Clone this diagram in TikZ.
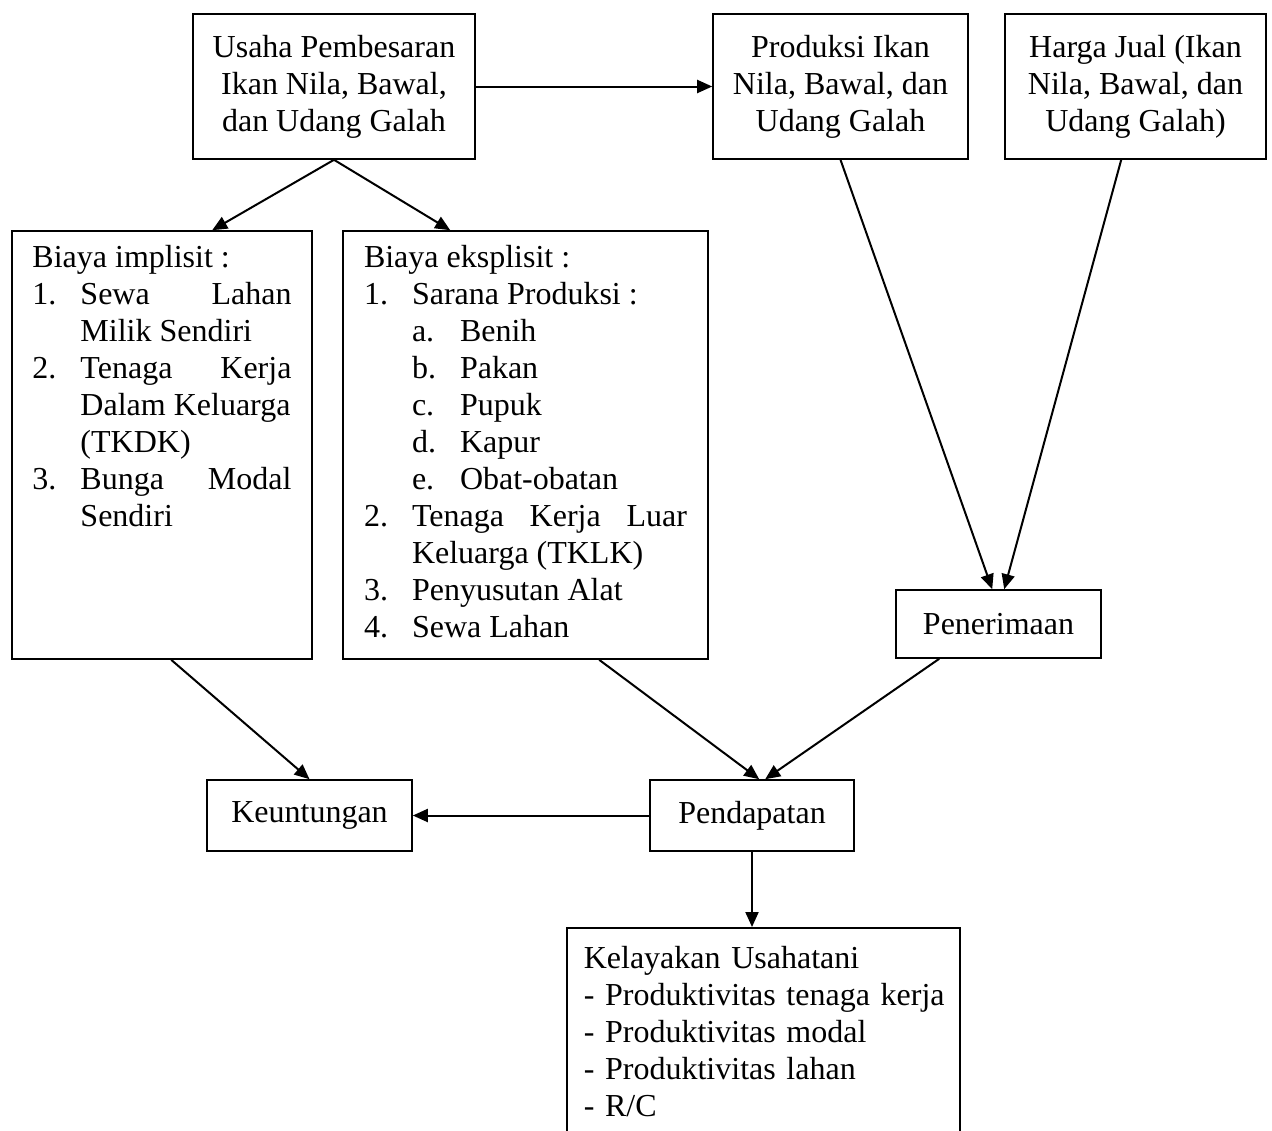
\documentclass[tikz,border=0pt]{standalone}
\usepackage{fontspec}
\setmainfont{Liberation Serif}
\usetikzlibrary{arrows.meta,calc}

\begin{document}
\begin{tikzpicture}[x=0.5pt,y=-0.5pt,
  every node/.style={font=\fontsize{16}{18.5}\selectfont},
  box/.style={draw, line width=0.8pt, align=center, inner sep=0pt},
  list box/.style={draw, line width=0.8pt, inner sep=0pt,
    minimum height=214pt},
  link/.style={line width=1pt, -{Triangle[length=7.5pt,width=6.5pt]}}]
  \useasboundingbox (0,0) rectangle (1272,1130);

  \node[box, minimum width=141pt, minimum height=72.5pt] (usaha) at (334,86.5)
    {Usaha Pembesaran\\ Ikan Nila, Bawal,\\ dan Udang Galah};
  \node[box, minimum width=127.5pt, minimum height=72.5pt] (prod) at (840.5,86.5)
    {Produksi Ikan\\ Nila, Bawal, dan\\ Udang Galah};
  \node[box, minimum width=130.5pt, minimum height=72.5pt] (harga) at (1135.5,86.5)
    {Harga Jual (Ikan\\ Nila, Bawal, dan\\ Udang Galah)};

  \node[list box, minimum width=150pt] (impl) at (162,445) {%
    \begin{tabular}{@{}p{24pt}@{}p{105.5pt}@{}}
      \multicolumn{2}{@{}l@{}}{Biaya implisit :}\\
      1. & Sewa \hfill Lahan\\
         & Milik Sendiri\\
      2. & Tenaga \hfill Kerja\\
         & Dalam Keluarga\\
         & (TKDK)\\
      3. & Bunga \hfill Modal\\
         & Sendiri\\
         & \\
         & \\
         &
    \end{tabular}};
  \node[list box, minimum width=182.5pt] (eks) at (525.5,445) {%
    \begin{tabular}{@{}p{24pt}@{}p{24pt}@{}p{113.5pt}@{}}
      \multicolumn{3}{@{}l@{}}{Biaya eksplisit :}\\
      1. & \multicolumn{2}{@{}l@{}}{Sarana Produksi :}\\
         & a. & Benih\\
         & b. & Pakan\\
         & c. & Pupuk\\
         & d. & Kapur\\
         & e. & Obat-obatan\\
      2. & \multicolumn{2}{@{}p{137.5pt}@{}}{Tenaga \hfill Kerja \hfill Luar}\\
         & \multicolumn{2}{@{}l@{}}{Keluarga (TKLK)}\\
      3. & \multicolumn{2}{@{}l@{}}{Penyusutan Alat}\\
      4. & \multicolumn{2}{@{}l@{}}{Sewa Lahan}
    \end{tabular}};

  \node[box, minimum width=102.5pt, minimum height=34pt] (pen) at (998.5,624) {Penerimaan};
  \node[box, minimum width=102.5pt, minimum height=35.5pt] (keu) at (309.5,815.5) {Keuntungan};
  \node[box, minimum width=102pt, minimum height=35.5pt] (pend) at (752,815.5) {Pendapatan};
  \node[draw, line width=0.8pt, anchor=north west, align=left, text width=179.5pt,
    inner xsep=8.5pt, inner ysep=9pt] (kel) at (566,927)
    {Kelayakan Usahatani\\ \mbox{- Produktivitas tenaga kerja}\\ - Produktivitas modal\\
     - Produktivitas lahan\\ - R/C};

  \draw[link] (usaha.east) -- (prod.west);
  \draw[link] (usaha.south) -- ($(impl.north west)+(201,0)$);
  \draw[link] (usaha.south) -- ($(eks.north west)+(108,0)$);
  \draw[link] (prod.south) -- ($(pen.north west)+(97,0)$);
  \draw[link] ($(harga.south west)+(117,0)$) -- ($(pen.north west)+(109,0)$);
  \draw[link] ($(impl.south west)+(160,0)$) -- (keu.north);
  \draw[link] ($(eks.south west)+(257,0)$) -- ($(pend.north west)+(110,0)$);
  \draw[link] ($(pen.south west)+(44,0)$) -- ($(pend.north west)+(116,0)$);
  \draw[link] (pend.west) -- (keu.east);
  \draw[link] (pend.south) -- (pend.south |- kel.north);
\end{tikzpicture}
\end{document}
